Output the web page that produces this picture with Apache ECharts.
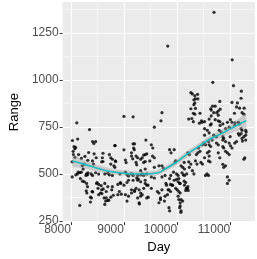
<!DOCTYPE html>
<html><head><meta charset="utf-8">
<script src="https://cdn.jsdelivr.net/npm/echarts@6/dist/echarts.min.js"></script>
<style>html,body{margin:0;padding:0;background:#fff}#c{width:257px;height:259px}</style>
</head><body><div id="c"></div>
<script>
const pointDay = [8112,8352,8030,8129,8089,8077,8060,8409,8467,8433,8335,8438,8478,8605,8593,8725,8752,8782,8833,8605,8043,8048,8025,8026,8141,8168,8198,8215,8254,8283,8313,8254,8313,8301,8399,8168,8387,8369,8484,8512,8558,8585,8627,8656,8639,8713,8770,8799,8931,8409,8426,8581,8752,8811,8838,8094,8124,8180,8296,8323,8381,8409,8467,8524,8639,8696,8725,8782,8220,8296,8290,8412,8495,8524,8570,8581,8610,8639,8667,8696,8369,8524,8667,8696,8752,8782,8077,8146,8198,8266,8318,8232,
9000,9172,8828,9000,9172,9199,9182,9412,9371,9228,9258,9142,9165,9027,9400,9228,8845,9040,9240,9371,9400,9572,9658,9744,8828,8924,9027,9057,9086,9142,9172,9258,9314,9343,9429,9515,9572,9715,9773,8885,8941,9000,9057,9086,9258,9314,9228,9285,9400,9429,9371,9629,9658,9715,8914,8950,8885,9027,9086,9142,9199,9314,9343,9057,9285,9429,9457,9687,9773,
9572,9697,9715,9824,9515,9543,9194,9142,9400,9429,9314,9343,9538,9572,9486,9715,9859,9886,9945,9972,9240,9270,9172,9314,9371,9400,9142,9199,9314,9258,9290,9452,9515,9687,9658,9801,9830,9761,9881,9859,9916,9945,10031,10058,9972,10002,10031,10058,9859,10031,10058,10058,10070,10139,10173,10288,10316,10139,10180,10139,10230,10259,10202,10230,10202,10162,10345,10374,10402,10431,10133,10219,10075,10105,10591,10620,9933,9990,10019,10092,10117,10563,10591,9790,9876,9904,9990,10019,10048,10133,10162,10191,10208,9847,9876,9818,10019,10075,10105,9847,10048,10075,
10694,11037,10672,11061,11209,10259,10288,10333,10385,10316,10345,10391,10333,10316,10804,10666,10717,11032,11135,11204,10259,10345,11119,11176,11262,10642,10775,10810,10305,10333,10431,10689,10746,10642,10775,11079,10277,10305,10460,10517,10717,10775,10804,11003,11033,11090,10642,11222,11256,10603,10625,10947,11153,11170,11291,11300,10517,10569,10603,10689,10792,10826,10861,10878,10998,11153,11170,11205,11222,11256,11230,10741,10775,10603,10632,10912,10981,11005,11084,11119,10861,10878,10912,11033,10569,10603,10775,10517,10804,10947,10981,11256,10878,10912,10947,10981,10947,10517,10660,10741,10809,10861,10912,10861,10981,11084,11205,11222,11291,11291,11274,10534,10603,10534,10219,10420,10471,9962,10362,10391,10477,10505,10448,10477,10591,10632,10861];
const pointRange = [772,736,678,686,641,634,645,672,672,662,614,607,586,610,586,603,586,578,651,566,620,603,564,484,509,506,509,543,552,492,495,458,432,398,406,332,372,350,449,423,398,395,372,355,337,360,415,386,453,569,552,564,552,543,569,495,500,475,500,505,500,492,506,499,500,504,495,492,461,449,410,404,454,444,437,415,420,449,406,432,376,389,372,358,376,432,588,603,583,593,572,526,
806,804,651,628,660,660,638,680,600,595,586,595,580,574,566,561,566,560,548,561,526,535,543,530,535,500,509,495,489,500,492,492,495,500,500,484,478,484,492,444,449,440,454,466,466,458,423,415,449,440,423,406,398,415,406,392,389,389,381,398,406,381,389,355,346,372,376,372,381,
749,783,826,1181,655,638,629,612,603,607,578,586,595,586,569,543,629,612,629,569,478,472,466,517,492,466,415,412,398,372,340,440,423,363,346,440,415,355,492,475,440,466,475,449,423,415,406,398,303,363,346,329,295,440,423,517,500,526,500,492,535,552,612,603,432,412,569,552,638,620,561,564,543,535,569,564,509,500,492,506,495,500,492,449,444,440,471,458,449,461,454,423,412,415,406,389,381,363,355,320,320,303,
1361,1108,988,970,941,933,926,916,924,895,900,900,878,869,886,861,861,881,878,903,847,849,857,850,850,840,835,845,823,818,823,826,826,809,813,823,795,778,783,778,789,783,778,789,775,772,766,826,818,792,760,775,775,766,732,723,741,732,718,706,732,723,698,689,698,715,706,715,689,698,675,664,655,655,646,672,664,650,664,672,646,638,620,638,612,620,612,586,586,612,603,578,535,543,484,466,449,706,680,698,758,766,741,680,749,758,741,732,706,680,586,655,595,492,792,770,775,561,603,612,655,664,561,552,672,847,551];
const smoothDay = [8030,8250,8500,8800,9100,9400,9600,9800,10000,10200,10400,10600,10800,11000,11200,11300];
const smoothFit = [569,552,530,510,501,499,503,530,565,608,645,683,710,740,770,783];
const smoothLower = [537,530,513,495,487,485,489,515,549,591,628,666,690,715,737,741];
const smoothUpper = [601,574,547,525,515,513,517,545,581,625,662,700,730,765,803,825];
const xTicks = [8000,9000,10000,11000];
const xMinorTicks = [8500,9500,10500];
const yTicks = [250,500,750,1000,1250];
const yMinorTicks = [375,625,875,1125,1375];

const FONT = 'Liberation Sans';
const chart = echarts.init(document.getElementById('c'), null, {renderer:'canvas'});
const pts = pointDay.map((d,i)=>[d, pointRange[i]]);
const fitData = smoothDay.map((d,i)=>[d, smoothFit[i]]);
const XMIN=7845, XMAX=11466, YMIN=243, YMAX=1416;
chart.setOption({
  animation:false,
  backgroundColor:'#fff',
  grid:{left:44,right:2,top:2,bottom:29,show:true,backgroundColor:'#EBEBEB',borderWidth:0,containLabel:false},
  xAxis:[
    {type:'value',min:XMIN,max:XMAX,
     axisLine:{show:false},
     axisTick:{show:true,length:3,lineStyle:{color:'#333',width:1},customValues:xTicks},
     axisLabel:{customValues:xTicks,align:'right',color:'#4D4D4D',fontSize:12,margin:2,fontFamily:FONT,formatter:v=>String(v)},
     splitLine:{show:true,lineStyle:{color:'#fff',width:1}},
     name:'Day',nameLocation:'middle',nameGap:13,nameTextStyle:{color:'#000',fontSize:13,fontFamily:FONT}},
    {type:'value',min:XMIN,max:XMAX,axisLine:{show:false},
     axisTick:{show:false,customValues:xMinorTicks},axisLabel:{show:false,customValues:xMinorTicks},
     splitLine:{show:true,lineStyle:{color:'#fff',width:0.5}}}
  ],
  yAxis:[
    {type:'value',min:YMIN,max:YMAX,
     axisLine:{show:false},
     axisTick:{show:true,length:3,lineStyle:{color:'#333',width:1},customValues:yTicks},
     axisLabel:{customValues:yTicks,color:'#4D4D4D',fontSize:12,margin:4,fontFamily:FONT,formatter:v=>String(v)},
     splitLine:{show:true,lineStyle:{color:'#fff',width:1}},
     name:'Range',nameLocation:'middle',nameGap:31,nameRotate:90,nameTextStyle:{color:'#000',fontSize:13,fontFamily:FONT}},
    {type:'value',min:YMIN,max:YMAX,axisLine:{show:false},
     axisTick:{show:false,customValues:yMinorTicks},axisLabel:{show:false,customValues:yMinorTicks},
     splitLine:{show:true,lineStyle:{color:'#fff',width:0.5}}}
  ],
  series:[
    {type:'scatter',data:pts,symbolSize:3.2,itemStyle:{color:'#000'},silent:true},
    {type:'custom',data:[[smoothDay[0],smoothFit[0]]],silent:true,z:3,
     renderItem:function(params, api){
       const poly=[];
       for(let i=0;i<smoothDay.length;i++) poly.push(api.coord([smoothDay[i],smoothUpper[i]]));
       for(let i=smoothDay.length-1;i>=0;i--) poly.push(api.coord([smoothDay[i],smoothLower[i]]));
       return {type:'polygon',shape:{points:poly},style:{fill:'rgba(153,153,153,0.4)'}};
     }},
    {type:'line',data:fitData,smooth:true,symbol:'none',z:4,lineStyle:{color:'#1DB9BB',width:1.6},silent:true}
  ]
});
</script></body></html>
